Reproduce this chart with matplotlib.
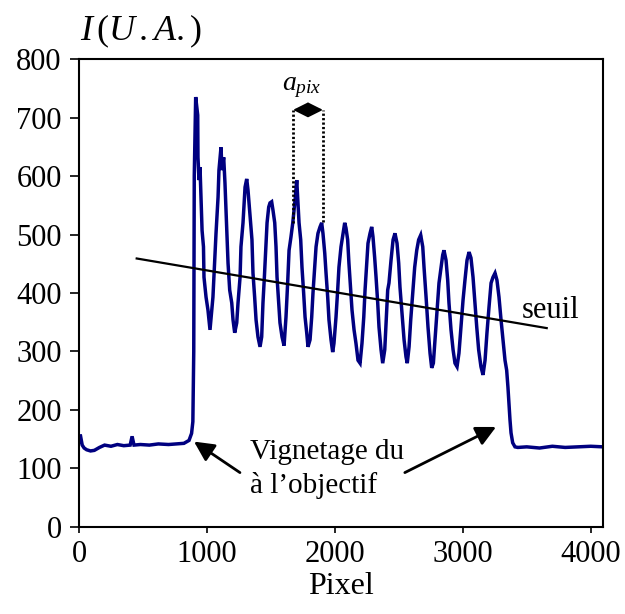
import matplotlib
matplotlib.use("Agg")
import matplotlib.pyplot as plt

plt.rcParams['font.family'] = ['Liberation Serif', 'DejaVu Serif']
plt.rcParams['mathtext.fontset'] = 'custom'
plt.rcParams['mathtext.rm'] = 'Liberation Serif'
plt.rcParams['mathtext.it'] = 'Liberation Serif:italic'

# ---- data ----
pixel = [0, 10, 25, 40, 60, 90, 120, 160, 200, 250, 300, 350, 400, 415, 430, 480, 550, 620, 700, 760, 820, 860, 880, 890,
         897, 901, 912, 928, 930, 938, 946, 954, 962, 973, 977, 993, 1008, 1024, 1031, 1047, 1061, 1071, 1087, 1094,
         1110, 1118, 1131, 1141, 1149, 1157, 1165, 1178, 1194, 1204, 1217, 1233, 1243, 1259, 1266, 1282, 1292, 1298,
         1311, 1321, 1329, 1342, 1352, 1360, 1373, 1384, 1399, 1415, 1428, 1438, 1449, 1459, 1470, 1483, 1493, 1506,
         1516, 1530, 1540, 1548, 1561, 1571, 1587, 1603, 1618, 1631, 1642, 1657, 1671, 1681, 1689, 1702, 1712, 1720,
         1733, 1743, 1756, 1767, 1780, 1790, 1806, 1819, 1829, 1842, 1853, 1868, 1884, 1897, 1907, 1921, 1931, 1944,
         1954, 1970, 1983, 1993, 2009, 2022, 2032, 2048, 2064, 2077, 2087, 2100, 2110, 2124, 2134, 2150, 2165, 2181,
         2197, 2212, 2226, 2236, 2249, 2259, 2275, 2288, 2298, 2311, 2322, 2335, 2345, 2361, 2374, 2390, 2400, 2413,
         2423, 2439, 2455, 2470, 2486, 2499, 2509, 2525, 2541, 2556, 2566, 2580, 2593, 2609, 2624, 2640, 2655, 2671,
         2687, 2697, 2713, 2728, 2744, 2757, 2770, 2783, 2799, 2814, 2830, 2843, 2853, 2869, 2882, 2892, 2908, 2924,
         2939, 2955, 2970, 2986, 3002, 3017, 3033, 3049, 3064, 3080, 3093, 3109, 3124, 3142, 3158, 3174, 3189, 3205,
         3221, 3236, 3252, 3267, 3283, 3299, 3314, 3330, 3343, 3353, 3361, 3369, 3377, 3390, 3408,
         3430, 3500, 3600, 3700, 3800, 3900, 4000, 4096]
intensity = [145, 158, 140, 135, 132, 130, 131, 136, 140, 138, 141, 139, 140, 155, 140, 141, 140, 142, 141, 142, 143, 148, 160, 180,
             300, 600, 735, 704, 632, 593, 615, 559, 507, 479, 427, 393, 371, 337, 354, 393, 456, 502, 564, 610,
             649, 610, 632, 588, 542, 496, 451, 405, 383, 354, 332, 349, 383, 427, 479, 520, 559, 581,
             595, 576, 554, 520, 491, 434, 393, 354, 325, 308, 325, 383, 427, 473, 520, 547, 554, 556,
             542, 520, 479, 427, 383, 349, 325, 310, 359, 417, 473, 496, 520, 542, 559, 593, 554, 520,
             491, 444, 400, 359, 332, 308, 320, 359, 400, 444, 479, 502, 513, 520, 502, 468, 434, 393,
             354, 320, 299, 314, 359, 405, 444, 479, 502, 520, 511, 491, 451, 405, 371, 337, 314, 285,
             280, 314, 359, 405, 451, 485, 502, 513, 496, 461, 427, 383, 342, 303, 280, 303, 349, 405,
             417, 456, 491, 502, 485, 451, 410, 366, 320, 291, 280, 308, 354, 400, 444, 473, 491, 499,
             479, 444, 393, 342, 297, 272, 280, 320, 371, 417, 444, 465, 473, 456, 422, 383, 337, 303,
             280, 274, 297, 342, 388, 422, 456, 470, 460, 427, 388, 342, 303, 274, 260, 285, 332, 376,
             417, 427, 434, 422, 393, 354, 320, 285, 268, 239, 212, 183, 161, 144, 137,
             136, 137, 135, 138, 136, 137, 138, 137]

seuil_x = [451, 3656]
seuil_y = [459, 340]

apix_x = [1673, 1907]
apix_top = 713
apix_bottom = [520, 521]

xticks = [0, 1000, 2000, 3000, 4000]
yticks = [0, 100, 200, 300, 400, 500, 600, 700, 800]

# ---- figure ----
fig = plt.figure(figsize=(6.25, 6.14), dpi=100)
ax = fig.add_axes([0.1264, 0.1417, 0.8384, 0.7622])

ax.plot(pixel, intensity, color='#000080', lw=2.5, solid_joinstyle='miter')
ax.plot(seuil_x, seuil_y, color='black', lw=1.6)

# a_pix dotted guides and double arrow
for xv, yb in zip(apix_x, apix_bottom):
    ax.plot([xv, xv], [yb, apix_top], color='black', lw=2.0, ls=(0, (0.8, 0.8)))
ax.annotate('', xy=(apix_x[0], apix_top), xytext=(apix_x[1], apix_top),
            arrowprops=dict(arrowstyle='<|-|>,head_length=0.6,head_width=0.3',
                            color='black', lw=1.5, shrinkA=0, shrinkB=0,
                            mutation_scale=15))
ax.text(1590, 746, r'$a_{pix}$', fontsize=20, ha='left', va='baseline')

ax.text(3461, 357, 'seuil', fontsize=22, ha='left', va='baseline')

ax.text(1337, 116, 'Vignetage du', fontsize=21, ha='left', va='baseline')
ax.text(1337, 58, 'à l’objectif', fontsize=21, ha='left', va='baseline')
arrow_kw = dict(arrowstyle='-|>,head_length=0.6,head_width=0.3', color='black',
                lw=2.0, shrinkA=0, shrinkB=0, mutation_scale=20)
ax.annotate('', xy=(899, 146), xytext=(1258, 93), arrowprops=arrow_kw)
ax.annotate('', xy=(3260, 171), xytext=(2547, 93), arrowprops=arrow_kw)

ax.set_xlim(0, 4096)
ax.set_ylim(0, 800)
ax.set_xticks(xticks)
ax.set_yticks(yticks)
ax.tick_params(axis='both', labelsize=22, direction='out', width=1.2,
               top=False, right=False)
ax.tick_params(axis='y', length=6.5, pad=6)
ax.tick_params(axis='x', length=4.5, pad=5)
for sp in ax.spines.values():
    sp.set_linewidth(1.5)

ax.set_xlabel('Pixel', fontsize=23, labelpad=2)
fig.text(80 / 625, 1 - 40 / 614, r'$I\,(U\,.A.)$', fontsize=26,
         ha='left', va='baseline')

fig.savefig('out.png', dpi=100)
